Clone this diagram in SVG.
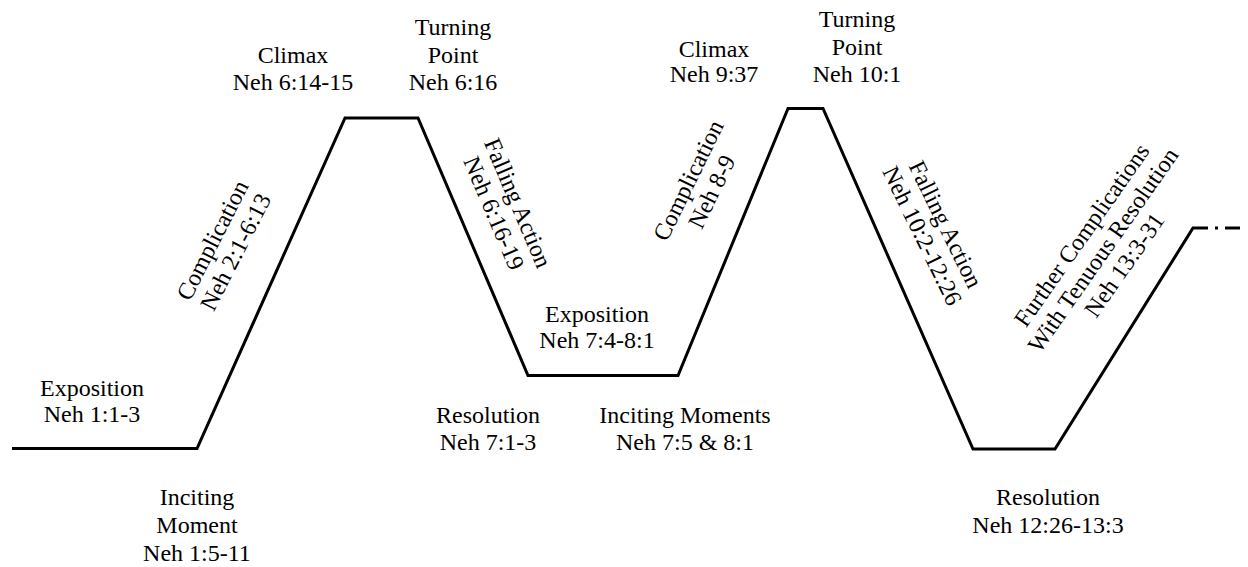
<svg xmlns="http://www.w3.org/2000/svg" width="1248" height="567" viewBox="0 0 1248 567">
<style>
.t{font-family:"Liberation Serif","Times New Roman",serif;font-size:24px;fill:#000;text-anchor:middle}
.ln{fill:none;stroke:#000;stroke-width:3}
</style>
<rect width="1248" height="567" fill="#fff"/>
<g id="connectors">
<polyline class="ln" points="12,448.5 197,448.5 345,118 418,118 528,375.5 678,375.5 788,108.5 823,108.5 973,449 1055,449 1193,228 1208,228"/>
<line class="ln" x1="1215" y1="228" x2="1218" y2="228"/>
<line class="ln" x1="1225" y1="228" x2="1240" y2="228"/>
</g>
<g id="exposition1"><text class="t" x="92" y="396">Exposition</text><text class="t" x="92" y="422">Neh 1:1-3</text></g>
<g id="inciting1"><text class="t" x="197" y="505">Inciting</text><text class="t" x="197" y="533">Moment</text><text class="t" x="197" y="561">Neh 1:5-11</text></g>
<g id="complication1" transform="translate(224,246) rotate(-63)"><text class="t" x="0" y="-5">Complication</text><text class="t" x="0" y="21">Neh 2:1-6:13</text></g>
<g id="climax1"><text class="t" x="293" y="63">Climax</text><text class="t" x="293" y="90">Neh 6:14-15</text></g>
<g id="turning1"><text class="t" x="453" y="35">Turning</text><text class="t" x="453" y="63">Point</text><text class="t" x="453" y="90">Neh 6:16</text></g>
<g id="falling1" transform="translate(506,208) rotate(67)"><text class="t" x="0" y="-5">Falling Action</text><text class="t" x="0" y="21">Neh 6:16-19</text></g>
<g id="exposition2"><text class="t" x="597" y="322">Exposition</text><text class="t" x="597" y="348">Neh 7:4-8:1</text></g>
<g id="resolution1"><text class="t" x="488" y="423">Resolution</text><text class="t" x="488" y="450">Neh 7:1-3</text></g>
<g id="inciting2"><text class="t" x="685" y="423">Inciting Moments</text><text class="t" x="685" y="450">Neh 7:5 &amp; 8:1</text></g>
<g id="complication2" transform="translate(700,186) rotate(-64)"><text class="t" x="0" y="-5">Complication</text><text class="t" x="0" y="21">Neh 8-9</text></g>
<g id="climax2"><text class="t" x="714" y="57">Climax</text><text class="t" x="714" y="82">Neh 9:37</text></g>
<g id="turning2"><text class="t" x="857" y="27">Turning</text><text class="t" x="857" y="55">Point</text><text class="t" x="857" y="82">Neh 10:1</text></g>
<g id="falling2" transform="translate(934,230) rotate(64)"><text class="t" x="0" y="-5">Falling Action</text><text class="t" x="0" y="21">Neh 10:2-12:26</text></g>
<g id="further" transform="translate(1103,250) rotate(-55)"><text class="t" x="0" y="-18">Further Complications</text><text class="t" x="0" y="8">With Tenuous Resolution</text><text class="t" x="0" y="34">Neh 13:3-31</text></g>
<g id="resolution2"><text class="t" x="1048" y="505">Resolution</text><text class="t" x="1048" y="533">Neh 12:26-13:3</text></g>
</svg>
